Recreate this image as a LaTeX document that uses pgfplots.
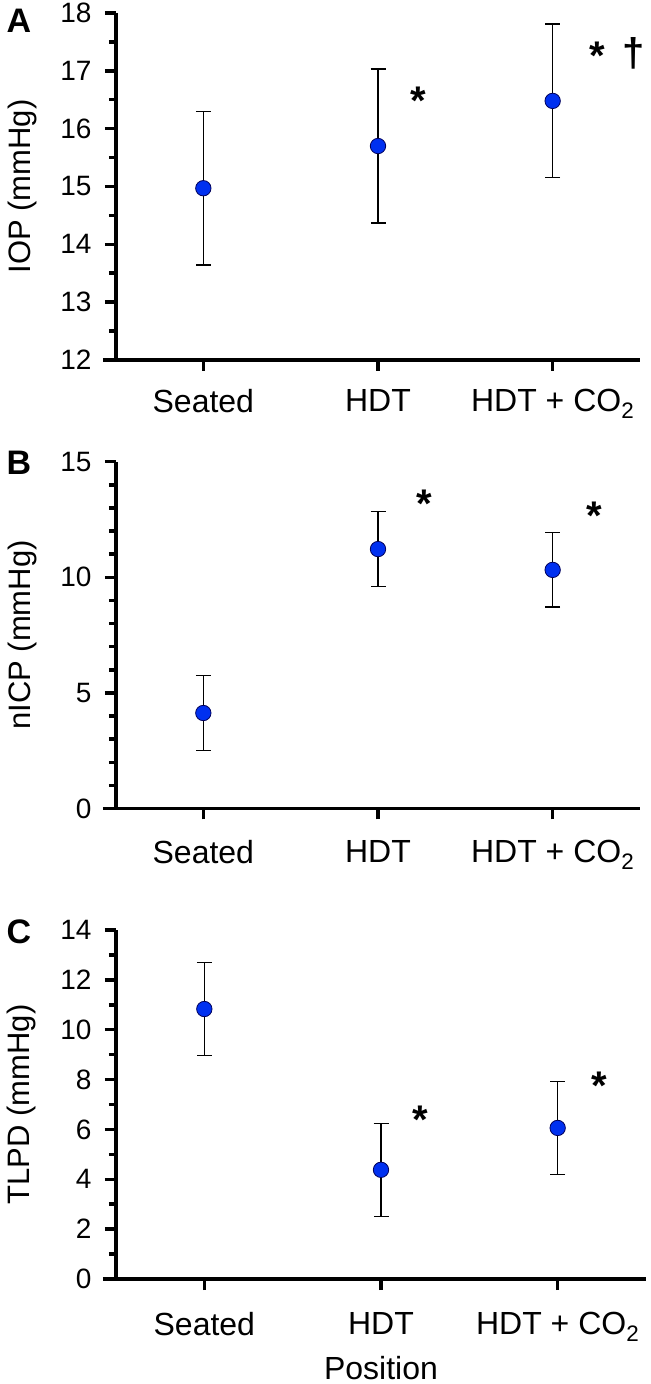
\documentclass[border=0pt]{standalone}
\usepackage{fontspec}
\setmainfont{Liberation Sans}
\usepackage{pgfplots}
\pgfplotsset{compat=1.18}

\definecolor{dotblue}{RGB}{0,48,240}
\definecolor{dotedge}{RGB}{0,0,90}

\pgfplotsset{
  panel/.style={
    scale only axis, anchor=south west, clip=false,
    axis lines*=left,
    axis line style={line width=3.5bp, black},
    x axis line style={shorten <=-13bp},
    xmin=-0.5, xmax=2.5,
    xtick={0,1,2},
    xticklabels={Seated, HDT, HDT + CO\textsubscript{2}},
    minor xtick={},
    tick align=outside,
    major tick length=11bp, minor tick length=7bp,
    every tick/.style={line width=3.5bp, black},
    every minor tick/.style={line width=3.5bp, black},
    xticklabel style={font=\fontsize{32bp}{36bp}\selectfont},
    yticklabel style={font=\fontsize{28bp}{32bp}\selectfont, xshift=-10bp},
    /pgf/number format/assume math mode=true,
    ylabel style={font=\fontsize{31bp}{35bp}\selectfont, at={(axis description cs:-0.179,0.5)}, anchor=center},
  },
  dots/.style={
    only marks, mark=*, mark size=7.7bp,
    mark options={fill=dotblue, draw=dotedge, line width=0.8bp},
    error bars/.cd, y dir=both, y explicit,
    error bar style={line width=1.3bp, black},
    error mark options={rotate=90, mark size=7.5bp, line width=1.3bp, black},
  },
}
\tikzset{sig/.style={font=\fontsize{40bp}{44bp}\selectfont\bfseries, anchor=north, inner sep=0pt}}

\begin{document}
\begin{tikzpicture}
\useasboundingbox (0,0) rectangle (651bp,1384bp);

% A: IOP
\begin{axis}[panel, at={(116bp,1024bp)}, width=524bp, height=347bp,
  ymin=12, ymax=18, ytick={12,13,...,18}, minor y tick num=1,
  xticklabel style={yshift=-15bp},
  ylabel={IOP (mmHg)}]
  \addplot[dots] coordinates {(0,14.97) +- (0,1.33) (1,15.70) +- (0,1.33) (2,16.48) +- (0,1.33)};
  \node[sig] at (axis cs:1.23,16.73) {*};
  \node[sig] at (axis cs:2.253,17.50) {*};
  \node[sig] at (axis cs:2.466,17.58) {†};
\end{axis}

% B: nICP
\begin{axis}[panel, at={(116bp,575.5bp)}, width=524bp, height=346.8bp,
  ymin=0, ymax=15, ytick={0,5,10,15}, minor y tick num=4,
  xticklabel style={yshift=-17bp},
  ylabel={nICP (mmHg)}]
  \addplot[dots] coordinates {(0,4.13) +- (0,1.61) (1,11.22) +- (0,1.62) (2,10.32) +- (0,1.61)};
  \node[sig] at (axis cs:1.264,13.79) {*};
  \node[sig] at (axis cs:2.241,13.27) {*};
\end{axis}

% C: TLPD
\begin{axis}[panel, at={(116bp,105bp)}, width=530bp, height=349bp,
  ymin=0, ymax=14, ytick={0,2,...,14}, minor y tick num=1,
  xticklabel style={yshift=-19bp},
  ylabel={TLPD (mmHg)},
  xlabel={Position},
  xlabel style={font=\fontsize{32bp}{36bp}\selectfont, at={(axis description cs:0.5,-0.287)}, anchor=base}]
  \addplot[dots] coordinates {(0,10.83) +- (0,1.86) (1,4.38) +- (0,1.86) (2,6.06) +- (0,1.86)};
  \node[sig] at (axis cs:1.22,6.95) {*};
  \node[sig] at (axis cs:2.237,8.33) {*};
\end{axis}

\node[font=\fontsize{34bp}{38bp}\selectfont\bfseries] at (19bp,1363bp) {A};
\node[font=\fontsize{34bp}{38bp}\selectfont\bfseries] at (19bp,921bp) {B};
\node[font=\fontsize{34bp}{38bp}\selectfont\bfseries] at (19bp,452bp) {C};
\end{tikzpicture}
\end{document}
